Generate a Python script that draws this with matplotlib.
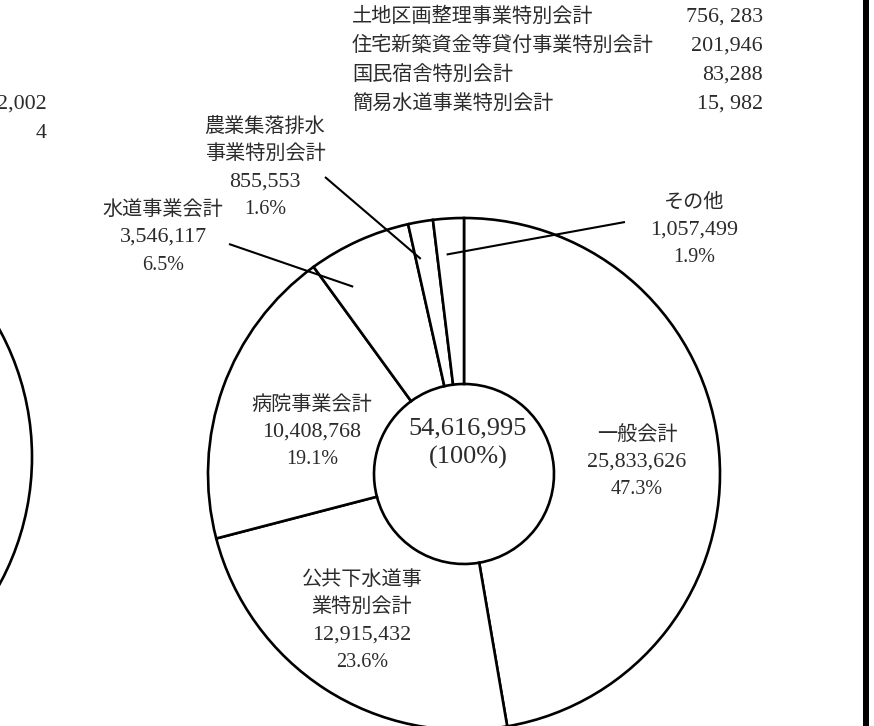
import numpy as np
import matplotlib
matplotlib.use("Agg")
import matplotlib.pyplot as plt
from matplotlib.patches import Circle, Rectangle

plt.rcParams['font.family'] = ['Liberation Serif', 'Noto Sans CJK JP', 'DejaVu Sans']

# ---- data ----
categories = ['一般会計', '公共下水道事業特別会計', '病院事業会計', '水道事業会計',
              '農業集落排水事業特別会計', 'その他']
display_names = ['一般会計', '公共下水道事\n業特別会計', '病院事業会計', '水道事業会計',
                 '農業集落排水\n事業特別会計', 'その他']
values = [25833626, 12915432, 10408768, 3546117, 855553, 1057499]
total_label = '54,616,995'
other_names = ['土地区画整理事業特別会計', '住宅新築資金等貸付事業特別会計',
               '国民宿舎特別会計', '簡易水道事業特別会計']
other_value_labels = ['756, 283', '201,946', '83,288', '15, 982']
left_fragments = ['2,002', '4']

W, H = 874, 726
fig = plt.figure(figsize=(W / 100, H / 100), dpi=100)
ax = fig.add_axes([0, 0, 1, 1])

def Y(y):
    return H - y

TXT = '#2b2b2b'
FS = 14.5
FS_NUM = 15.8
LS = 27.5  # line spacing in px

cx, cy, R, r_in = 464, 474, 256, 90
wedges, _ = ax.pie(values, startangle=90, counterclock=False, radius=R,
                   center=(cx, Y(cy)),
                   wedgeprops=dict(width=R - r_in, edgecolor='black',
                                   linewidth=1.9, facecolor='white'))
ax.set_xlim(0, W)
ax.set_ylim(0, H)
ax.set_aspect('equal')
ax.axis('off')

total = sum(values)
pcts = [v / total * 100 for v in values]
cum = np.concatenate([[0], np.cumsum(values) / total * 360])

def label_block(x, y0, i):
    names = display_names[i].split('\n')
    lines = [(s, FS) for s in names] + [(f'{values[i]:,}', FS_NUM), (f'{pcts[i]:.1f}%', FS)]
    for k, (s, fs) in enumerate(lines):
        ax.text(x, Y(y0 + k * LS), s, ha='center', va='center', fontsize=fs, color=TXT)

# labels (layout positions)
label_pos = {0: (637, 435), 1: (362, 580), 2: (312, 405), 3: (163, 210),
             4: (265, 127), 5: (694, 203)}
for i, (x, y) in label_pos.items():
    label_block(x, y, i)

# leader lines: anchor inside wedge (fraction of wedge angle, fraction of radius)
leaders = {3: (0.23, 0.85, (229, 244)), 4: (0.22, 0.857, (325, 177)),
           5: (0.35, 0.86, (625, 222))}
for i, (f, rf, (tx, ty)) in leaders.items():
    a = cum[i] + f * (cum[i + 1] - cum[i])
    th = np.deg2rad(90 - a)
    px = cx + rf * R * np.cos(th)
    py = Y(cy) + rf * R * np.sin(th)
    ax.plot([px, tx], [py, Y(ty)], color='black', lw=1.5, solid_capstyle='butt')

# centre total
ax.text(468, Y(428), total_label, ha='center', va='center', fontsize=19, color=TXT)
ax.text(468, Y(457), '(100%)', ha='center', va='center', fontsize=19, color=TXT)

# breakdown of その他
for k, (n, v) in enumerate(zip(other_names, other_value_labels)):
    yy = 17 + k * 29
    ax.text(352, Y(yy), n, ha='left', va='center', fontsize=FS, color=TXT)
    ax.text(763, Y(yy), v, ha='right', va='center', fontsize=FS_NUM, color=TXT)

# fragment of neighbouring chart on the left
ax.add_patch(Circle((-234, Y(457)), 266, facecolor='none', edgecolor='black', lw=1.9,
                    clip_on=True))
ax.text(47, Y(104), left_fragments[0], ha='right', va='center', fontsize=FS_NUM, color=TXT)
ax.text(47, Y(133), left_fragments[1], ha='right', va='center', fontsize=FS_NUM, color=TXT)

# border bar on the right
ax.add_patch(Rectangle((863, 0), 6, H, facecolor='black', edgecolor='none'))

fig.savefig('out.png', dpi=100, facecolor='white')
